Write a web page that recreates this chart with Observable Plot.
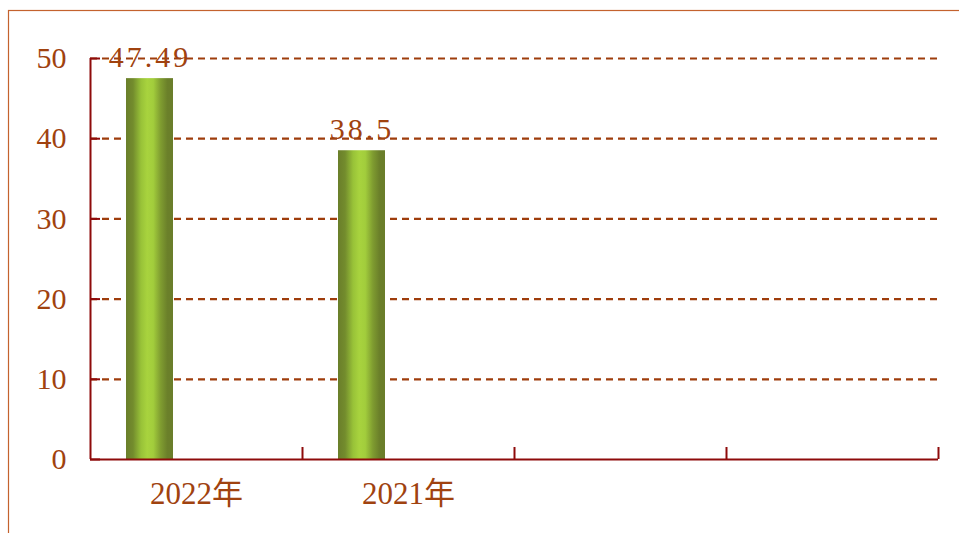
<!DOCTYPE html>
<html>
<head>
<meta charset="utf-8">
<script src="https://cdn.jsdelivr.net/npm/d3@7"></script>
<script src="https://cdn.jsdelivr.net/npm/@observablehq/plot@0.6"></script>
<style>
  html, body { margin: 0; padding: 0; background: #fff; }
  #wrap { width: 959px; height: 533px; overflow: hidden; position: relative; }
  #wrap svg { overflow: hidden; }
</style>
</head>
<body>
<div id="wrap"></div>
<script>
// Data
const years = ["2022年", "2021年"];
const values = [47.49, 38.5];
const categories = ["2022年", "2021年", " ", "  "];
const yTicks = [0, 10, 20, 30, 40, 50];

const data = years.map((year, i) => ({year, value: values[i]}));

const textColor = "#a0420f";
const axisColor = "#8e0b0b";
const gridColor = "#9e3d0c";
const font = "'Liberation Serif', 'Noto Sans CJK SC', serif";

const plot = Plot.plot({
  width: 959,
  height: 533,
  marginLeft: 90,
  marginRight: 21,
  marginTop: 58,
  marginBottom: 74,
  style: {fontFamily: font, fontSize: "30px", color: textColor, background: "#fff"},
  x: {domain: categories, padding: 0, label: null},
  y: {domain: [0, 50], ticks: yTicks, label: null},
  marks: [
    Plot.frame({stroke: "#c4622e", strokeWidth: 1.2, insetLeft: -82, insetTop: -48, insetRight: -40, insetBottom: -100}),
    Plot.gridY(yTicks.filter(d => d > 0), {stroke: gridColor, strokeOpacity: 1, strokeWidth: 2.2, strokeDasharray: "7,5"}),
    Plot.barY(data, {x: "year", y: "value", insetLeft: 36, insetRight: 129, fill: "url(#barGrad)"}),
    Plot.text(data, {x: "year", y: "value", text: d => String(d.value), dx: -46.5, dy: -12, lineAnchor: "bottom", fill: textColor, fontSize: 30, fontFamily: font}),
    Plot.ruleY([0], {stroke: axisColor, strokeWidth: 2}),
    Plot.ruleX([categories[0]], {dx: -106, y1: 0, y2: 50, stroke: axisColor, strokeWidth: 2}),
    Plot.axisY(yTicks, {tickSize: -10, tickFormat: () => "", stroke: axisColor, strokeWidth: 2, label: null}),
    Plot.axisY(yTicks, {tickSize: 0, tickPadding: 24, fill: textColor, fontSize: 30, fontFamily: font, label: null}),
    Plot.axisX(categories, {tickSize: -12, tickFormat: () => "", dx: 106, stroke: axisColor, strokeWidth: 2, label: null}),
    Plot.axisX(categories, {tickSize: 0, tickPadding: 22, fill: textColor, fontSize: 31, fontFamily: font, label: null}),
  ]
});

// gradient definition for bars
const svg = d3.select(plot.tagName === "svg" ? plot : plot.querySelector("svg"));
const defs = svg.insert("defs", ":first-child");
const grad = defs.append("linearGradient").attr("id", "barGrad").attr("x1", "0%").attr("x2", "100%").attr("y1", "0%").attr("y2", "0%");
[[0, "#6a7e2a"], [0.15, "#738c2d"], [0.32, "#98c238"], [0.45, "#a8d33e"], [0.58, "#a2cd3c"], [0.74, "#7f9c30"], [0.88, "#6b802a"], [1, "#6a7d2a"]]
  .forEach(([o, c]) => grad.append("stop").attr("offset", o).attr("stop-color", c));

// wide glyph spacing for value labels
svg.selectAll('g[aria-label="text"] text').attr("letter-spacing", "3px");

document.getElementById("wrap").appendChild(plot);
</script>
</body>
</html>
